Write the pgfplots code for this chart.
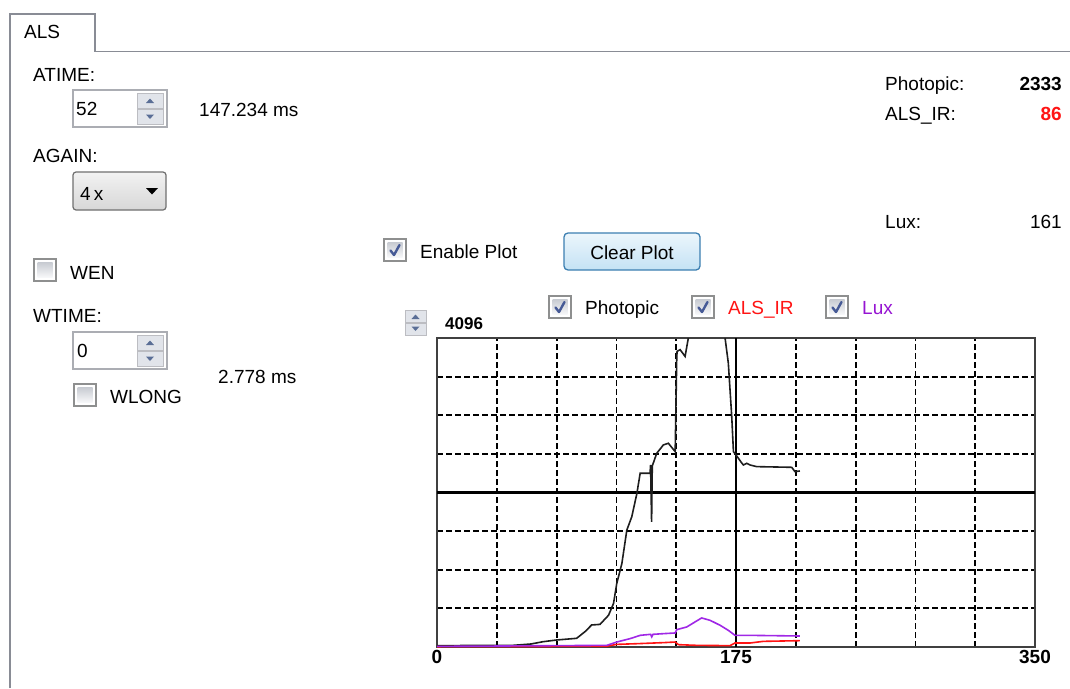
\documentclass[border=0pt]{standalone}
\usepackage{fontspec}
\setmainfont{Liberation Sans}
\usepackage{pgfplots}
\pgfplotsset{compat=1.18}
\definecolor{tabgray}{RGB}{137,140,149}
\definecolor{cbborder}{RGB}{142,143,143}
\definecolor{cbtop}{RGB}{200,204,210}
\definecolor{cbbot}{RGB}{248,249,250}
\definecolor{checkc}{RGB}{70,90,150}
\definecolor{spinborder}{RGB}{171,173,179}
\definecolor{spinbtn}{RGB}{225,228,234}
\definecolor{arrowc}{RGB}{90,110,150}
\definecolor{axisgray}{RGB}{64,64,64}
\definecolor{irred}{RGB}{255,20,20}
\definecolor{luxpurple}{RGB}{160,40,230}
\definecolor{luxtext}{RGB}{150,20,210}
\definecolor{photoblack}{RGB}{30,30,30}
\newcommand{\cbox}[2]{%
  \draw[cbborder, line width=1.2pt, fill=white] (#1,#2) rectangle ++(22,22);
  \path[top color=cbtop, bottom color=cbbot] (#1+3.5,#2+3.5) rectangle ++(15,15);}
\newcommand{\cmark}[2]{%
  \draw[checkc, line width=2.4pt, line cap=round, line join=round] (#1+6.5,#2+11.5) -- (#1+10,#2+16) -- (#1+15.5,#2+6);}
\newcommand{\spinbox}[2]{%
  \draw[spinborder, line width=1.2pt, fill=white] (#1,#2) rectangle ++(94,37);
  \draw[spinborder!80, fill=spinbtn] (#1+64,#2+3) rectangle (#1+90,#2+18.5);
  \draw[spinborder!80, fill=spinbtn] (#1+64,#2+19.5) rectangle (#1+90,#2+34);
  \fill[arrowc] (#1+73,#2+13) -- (#1+81,#2+13) -- (#1+77,#2+8.5) -- cycle;
  \fill[arrowc] (#1+73,#2+24.5) -- (#1+81,#2+24.5) -- (#1+77,#2+29) -- cycle;}
\begin{document}
\begin{tikzpicture}
\path[use as bounding box, fill=white] (0,0) rectangle (1070pt,-688pt);
\begin{scope}[x=1pt,y=-1pt, every node/.style={font=\fontsize{19}{22}\selectfont, inner sep=0pt}]
% tab
\draw[tabgray, line width=1.3pt] (10,688) -- (10,14) -- (95,14) -- (95,51.5) -- (1070,51.5);
\node[anchor=base west] at (24,38) {ALS};
% ATIME
\node[anchor=base west] at (33,81) {ATIME:};
\spinbox{73}{90}
\node[anchor=base west] at (76,115) {52};
\node[anchor=base west] at (199,116.5) {147.234 ms};
% AGAIN
\node[anchor=base west] at (33,162) {AGAIN:};
\draw[rounded corners=3pt, draw={rgb,255:red,112;green,112;blue,112}, line width=1.2pt, top color={rgb,255:red,242;green,242;blue,242}, bottom color={rgb,255:red,215;green,215;blue,215}] (73,172) rectangle (166,210);
\node[anchor=base west] at (80,200) {4\,x};
\fill[black] (146,188) -- (158,188) -- (152,194.5) -- cycle;
% WEN
\cbox{34}{259}
\node[anchor=base west] at (70,279) {WEN};
% WTIME
\node[anchor=base west] at (33,322) {WTIME:};
\spinbox{73}{332}
\node[anchor=base west] at (77,357) {0};
\node[anchor=base west] at (218,383) {2.778 ms};
\cbox{74}{384}
\node[anchor=base west] at (110,403) {WLONG};
% Enable plot / Clear plot
\cbox{384}{239}
\cmark{384}{239}
\node[anchor=base west] at (420,258.5) {Enable Plot};
\draw[rounded corners=4pt, draw={rgb,255:red,60;green,127;blue,177}, line width=1.3pt, top color={rgb,255:red,236;green,246;blue,252}, bottom color={rgb,255:red,196;green,226;blue,244}] (564,233) rectangle (700,270);
\node[anchor=base] at (632,259.5) {Clear Plot};
% readouts
\node[anchor=base west] at (885,90) {Photopic:};
\node[anchor=base east] at (1062,90) {\bfseries 2333};
\node[anchor=base west] at (885,120) {ALS\_IR:};
\node[anchor=base east, text=irred] at (1062,120) {\bfseries 86};
\node[anchor=base west] at (885,228) {Lux:};
\node[anchor=base east] at (1062,228) {161};
% legend checkboxes
\cbox{549}{296}
\cmark{549}{296}
\node[anchor=base west] at (585,314) {Photopic};
\cbox{692}{296}
\cmark{692}{296}
\node[anchor=base west, text=irred] at (728,314) {ALS\_IR};
\cbox{826}{296}
\cmark{826}{296}
\node[anchor=base west, text=luxtext] at (862,314) {Lux};
% y spinner
\draw[spinborder!80, fill=spinbtn] (405,310) rectangle (426,322);
\draw[spinborder!80, fill=spinbtn] (405,323) rectangle (426,335);
\fill[arrowc] (411.5,319) -- (419.5,319) -- (415.5,314.5) -- cycle;
\fill[arrowc] (411.5,326.5) -- (419.5,326.5) -- (415.5,331) -- cycle;
\node[anchor=base west, font=\fontsize{17}{20}\selectfont\bfseries] at (445,329.5) {4096};
\end{scope}
\begin{axis}[
  at={(437pt,-647pt)}, anchor=south west, scale only axis,
  width=598pt, height=309pt,
  xmin=0, xmax=350, ymin=0, ymax=4096,
  axis line style={draw=axisgray, line width=2.2pt},
  xtick={0,35,...,350},
  xticklabels={0,,,,,175,,,,,350},
  ytick={0,512,...,4096},
  yticklabels={},
  major tick length=0pt,
  xmajorgrids, ymajorgrids,
  every axis grid/.style={black, line width=1.8pt, dash pattern=on 6pt off 3pt},
  extra x ticks={175}, extra x tick labels={},
  extra x tick style={xmajorgrids, every axis grid/.style={black, solid, line width=2.2pt}},
  extra y ticks={2048}, extra y tick labels={},
  extra y tick style={ymajorgrids, every axis grid/.style={black, solid, line width=2.2pt}},
  xticklabel style={font=\fontsize{19}{22}\selectfont\bfseries, text=black},
]
\addplot[photoblack, line width=1.6pt] coordinates {
(0,18) (20,20) (44.5,22) (55,40) (62,70) (70,93) (81.7,115) (86.6,203) (90.5,292) (95.4,300)
(100.4,421) (103.3,576) (105.2,841) (108.2,1107) (111.1,1550) (114,1727) (117,2037)
(118.9,2303) (124.7,2303) (125.0,2413) (125.6,1660) (126.0,2400) (128.6,2568)
(132.5,2679) (135.4,2701) (139.4,2590) (140.3,3808) (140.5,3919) (142.3,3941)
(145.2,3852) (147.1,4096) (150,4500) (165,4500) (168.6,4096) (170.5,3764)
(172.5,3055) (173.5,2590) (176.4,2502) (178,2450) (179.3,2413) (181.3,2435)
(183.2,2413) (187.1,2391) (207.6,2382) (209.5,2325) (212.4,2333)
};
\addplot[irred, line width=1.6pt] coordinates {
(0,4) (99,9) (105.2,35) (117,44) (132.5,58) (139.4,66) (141.3,31) (152,22)
(171.5,18) (174.4,53) (183.2,53) (191,75) (212.4,84)
};
\addplot[luxpurple, line width=1.6pt] coordinates {
(0,8) (99.4,22) (105.2,66) (113,111) (119,155) (125,168) (125.7,135) (126.4,168)
(132.5,177) (139.4,186) (140.3,230) (146.2,266) (151,332) (154.9,385) (159.8,354)
(165.7,288) (170.5,221) (174.4,155) (181.3,155) (212.4,146)
};
\end{axis}
\end{tikzpicture}
\end{document}
